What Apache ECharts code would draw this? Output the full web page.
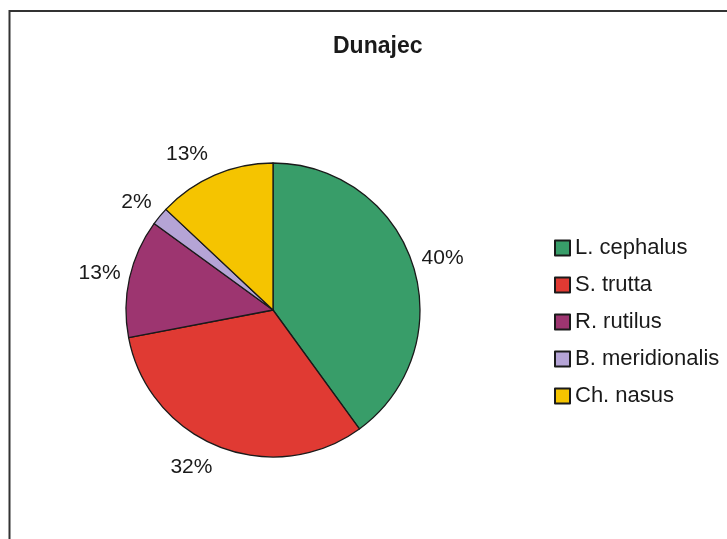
<!DOCTYPE html>
<html>
<head>
<meta charset="utf-8">
<script src="https://cdn.jsdelivr.net/npm/echarts@6/dist/echarts.min.js"></script>
<style>
html,body{margin:0;padding:0;background:#fff;}
#chart{width:727px;height:539px;}
</style>
</head>
<body>
<div id="chart"></div>
<script>
const titleText = 'Dunajec';
const categories = ['L. cephalus', 'S. trutta', 'R. rutilus', 'B. meridionalis', 'Ch. nasus'];
const values = [40, 32, 13, 2, 13];
const colors = ['#389d69', '#e03a33', '#9d3570', '#b5a4d6', '#f5c400'];

const CX = 273, CY = 310, R = 147;
const FONT = '"Liberation Sans", Arial, sans-serif';

const chart = echarts.init(document.getElementById('chart'), null, {renderer: 'canvas'});
chart.setOption({
  backgroundColor: '#ffffff',
  animation: false,
  title: {
    text: titleText,
    left: 328,
    top: 30,
    textStyle: {fontFamily: FONT, fontSize: 23, fontWeight: 'bold', color: '#1a1a1a'}
  },
  legend: {
    orient: 'vertical',
    left: 549,
    top: 232,
    itemWidth: 15,
    itemHeight: 15,
    itemGap: 15,
    icon: 'rect',
    data: categories,
    textStyle: {fontFamily: FONT, fontSize: 22, color: '#1a1a1a', lineHeight: 20},
    selectedMode: false
  },
  graphic: [{
    type: 'rect',
    shape: {x: 9.5, y: 11, width: 800, height: 600},
    style: {fill: 'none', stroke: '#333333', lineWidth: 2},
    silent: true
  }],
  series: [{
    type: 'pie',
    center: [CX, CY],
    radius: [0, R],
    startAngle: 90,
    clockwise: true,
    avoidLabelOverlap: false,
    itemStyle: {borderColor: '#1a1a1a', borderWidth: 1.3},
    label: {
      show: true,
      position: 'outside',
      formatter: p => p.value + '%',
      fontFamily: FONT,
      fontSize: 21,
      color: '#1a1a1a',
      distanceToLabelLine: 5
    },
    labelLine: {show: false, length: 4, length2: 0},
    labelLayout: function (params) {
      const r = params.labelRect;
      if (!r) return {};
      const lx = r.x + r.width / 2 - CX, ly = r.y + r.height / 2 - CY;
      const d = Math.sqrt(lx * lx + ly * ly) || 1;
      return {dy: 20 * ly / d};
    },
    emphasis: {disabled: true},
    data: categories.map((c, i) => ({name: c, value: values[i], itemStyle: {color: colors[i]}}))
  }]
});
</script>
</body>
</html>
